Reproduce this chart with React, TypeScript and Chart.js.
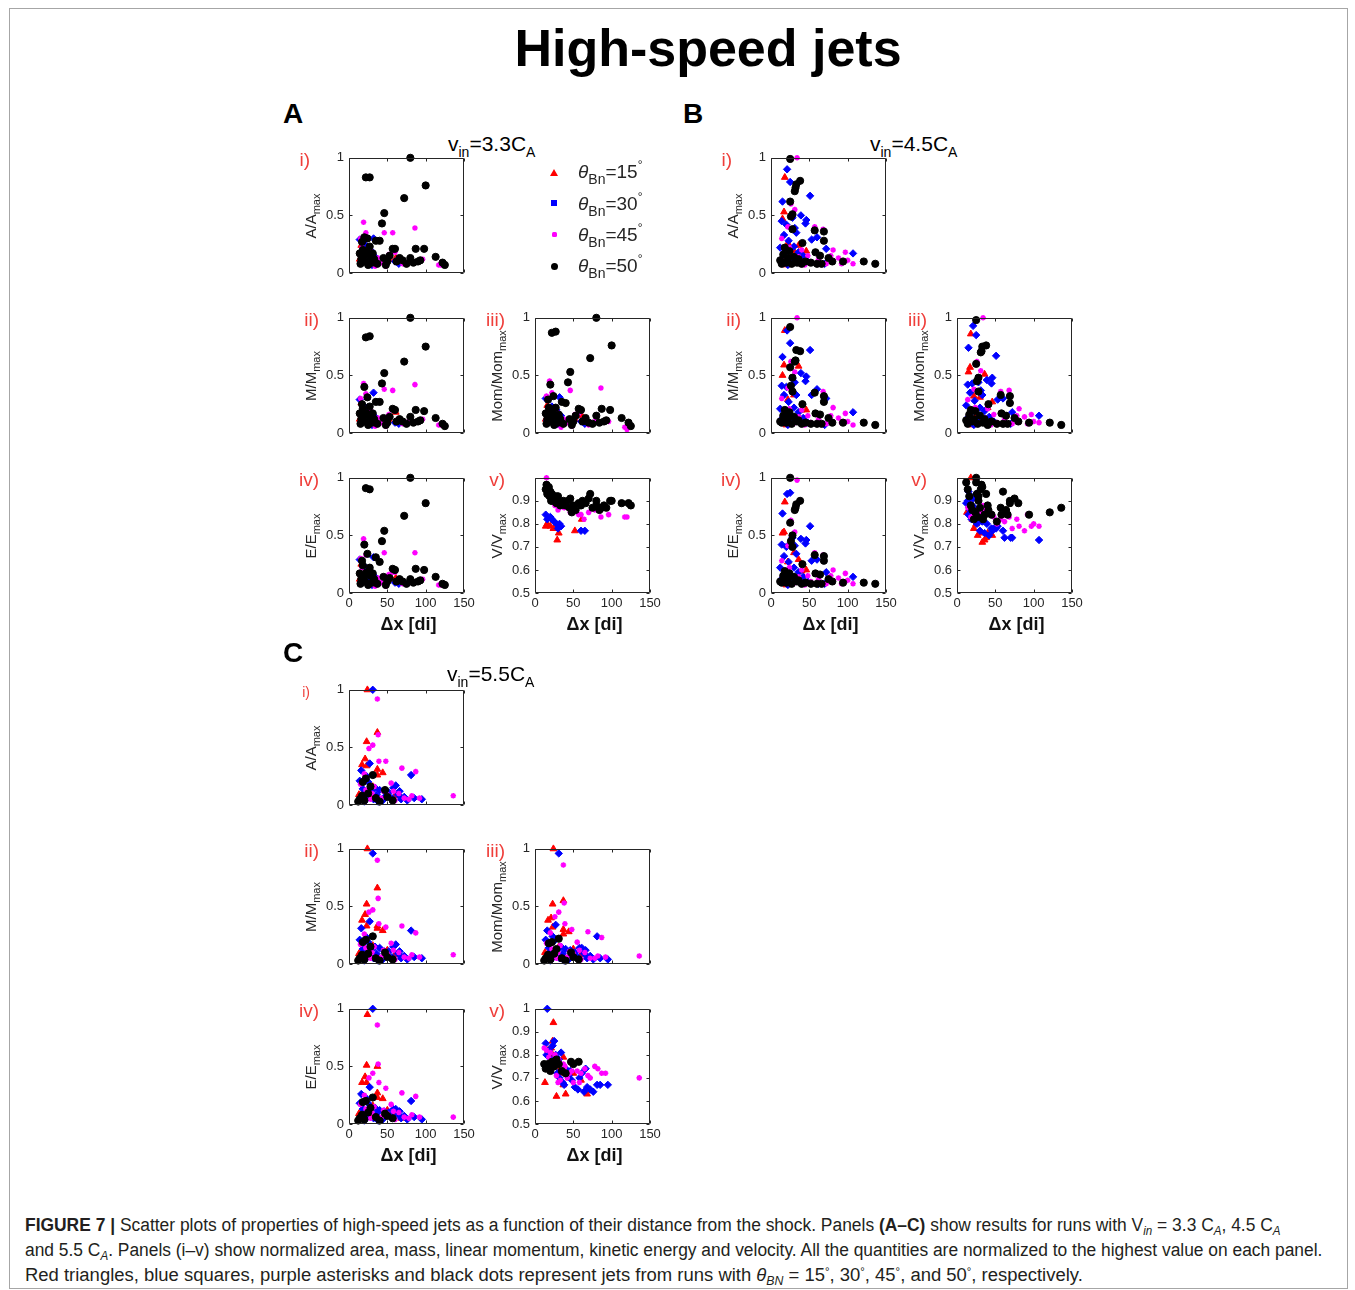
import React, { useEffect, useLayoutEffect, useRef } from 'react';
import { Chart, registerables } from 'chart.js';

Chart.register(...registerables);

const FONT = '"Liberation Sans", Arial, Helvetica, sans-serif';
const INK = '#262626';
const ROMAN_RED = '#ef3e3a';

// ---------------- categories / labels ----------------
const THETA_BN = ['15', '30', '45', '50'];
const RUN_LETTERS = ['A', 'B', 'C'];
const RUN_VIN = ['3.3', '4.5', '5.5'];
const ROMAN = ['i)', 'ii)', 'iii)', 'iv)', 'v)'];
const QTY_NAMES = ['A', 'M', 'Mom', 'E', 'V'];
const X_TICKS = [0, 50, 100, 150];
const Y_TICKS_NORM = [0, 0.5, 1];
const Y_LABELS_NORM = ['0', '0.5', '1'];
const Y_TICKS_VEL = [0.5, 0.6, 0.7, 0.8, 0.9, 1];
const Y_LABELS_VEL_AB = ['0.5', '0.6', '0.7', '0.8', '0.9', ''];
const Y_LABELS_VEL_C = ['0.5', '0.6', '0.7', '0.8', '0.9', '1'];

// ---------------- Run A : v_in = 3.3 C_A ----------------
const A_red_dx = [16, 61, 14, 20, 27, 29, 31, 52, 24];
const A_red_area = [0.24, 0.13, 0.12, 0.17, 0.10, 0.07, 0.14, 0.12, 0.09];
const A_red_mass = [0.26, 0.18, 0.12, 0.17, 0.10, 0.07, 0.14, 0.12, 0.09];
const A_red_mom = [0.24, 0.15, 0.12, 0.16, 0.10, 0.07, 0.14, 0.12, 0.09];
const A_red_energy = [0.25, 0.13, 0.12, 0.17, 0.10, 0.07, 0.14, 0.12, 0.09];
const A_red_vel = [0.80, 0.82, 0.79, 0.79, 0.78, 0.73, 0.76, 0.77, 0.78];

const A_blue_dx = [14, 32, 16, 20, 25, 28, 30, 34, 60, 65, 22];
const A_blue_area = [0.29, 0.30, 0.10, 0.16, 0.12, 0.20, 0.07, 0.14, 0.10, 0.08, 0.24];
const A_blue_mass = [0.29, 0.35, 0.10, 0.16, 0.13, 0.18, 0.07, 0.14, 0.09, 0.08, 0.22];
const A_blue_mom = [0.30, 0.31, 0.11, 0.17, 0.12, 0.20, 0.08, 0.15, 0.10, 0.08, 0.23];
const A_blue_energy = [0.29, 0.31, 0.10, 0.16, 0.12, 0.19, 0.07, 0.14, 0.09, 0.08, 0.22];
const A_blue_vel = [0.84, 0.80, 0.82, 0.83, 0.81, 0.80, 0.78, 0.79, 0.77, 0.77, 0.82];

const A_mag_dx = [19, 46, 57, 86, 117, 120, 96, 15, 17, 22, 26, 30, 34, 38, 42, 52, 60, 64, 70, 78, 28, 48];
const A_mag_area = [0.44, 0.35, 0.35, 0.39, 0.07, 0.07, 0.12, 0.30, 0.22, 0.35, 0.15, 0.10, 0.06, 0.13, 0.09, 0.16, 0.18, 0.12, 0.08, 0.10, 0.20, 0.06];
const A_mag_mass = [0.43, 0.38, 0.37, 0.42, 0.07, 0.07, 0.12, 0.30, 0.22, 0.34, 0.15, 0.10, 0.06, 0.13, 0.09, 0.16, 0.19, 0.12, 0.08, 0.10, 0.20, 0.06];
const A_mag_mom = [0.45, 0.37, 0.17, 0.39, 0.05, 0.03, 0.10, 0.32, 0.22, 0.35, 0.15, 0.10, 0.05, 0.12, 0.09, 0.16, 0.19, 0.12, 0.07, 0.10, 0.19, 0.06];
const A_mag_energy = [0.47, 0.35, 0.18, 0.35, 0.07, 0.07, 0.12, 0.30, 0.22, 0.33, 0.15, 0.10, 0.06, 0.13, 0.09, 0.16, 0.18, 0.12, 0.08, 0.09, 0.19, 0.06];
const A_mag_vel = [0.93, 0.85, 0.84, 0.83, 0.83, 0.83, 0.84, 1.00, 0.95, 0.92, 0.88, 0.86, 0.89, 0.87, 0.90, 0.86, 0.84, 0.82, 0.85, 0.86, 0.89, 0.88];

const A_blk_dx = [80, 22, 27, 100, 72, 46, 43, 20, 24, 35, 40, 18, 57, 60, 87, 98, 113, 122, 125, 15, 16, 19, 21, 25, 28, 30, 33, 37, 45, 50, 53, 62, 66, 70, 75, 80, 84, 90, 93, 17, 23, 27, 31, 14, 48];
const A_blk_area = [1.00, 0.83, 0.83, 0.76, 0.65, 0.52, 0.43, 0.31, 0.30, 0.28, 0.28, 0.20, 0.21, 0.21, 0.21, 0.21, 0.14, 0.09, 0.07, 0.08, 0.12, 0.15, 0.10, 0.07, 0.14, 0.09, 0.12, 0.08, 0.13, 0.10, 0.15, 0.10, 0.13, 0.11, 0.08, 0.13, 0.09, 0.10, 0.11, 0.27, 0.18, 0.23, 0.17, 0.17, 0.07];
const A_blk_mass = [1.00, 0.83, 0.84, 0.75, 0.62, 0.52, 0.43, 0.40, 0.31, 0.27, 0.27, 0.21, 0.21, 0.20, 0.20, 0.19, 0.13, 0.08, 0.06, 0.08, 0.12, 0.15, 0.10, 0.07, 0.14, 0.09, 0.12, 0.08, 0.13, 0.09, 0.14, 0.10, 0.12, 0.10, 0.08, 0.14, 0.09, 0.10, 0.11, 0.25, 0.17, 0.23, 0.17, 0.17, 0.07];
const A_blk_mom = [1.00, 0.87, 0.88, 0.76, 0.65, 0.53, 0.44, 0.42, 0.32, 0.27, 0.26, 0.22, 0.21, 0.20, 0.21, 0.20, 0.13, 0.09, 0.06, 0.08, 0.12, 0.14, 0.10, 0.07, 0.14, 0.09, 0.12, 0.08, 0.12, 0.10, 0.15, 0.10, 0.13, 0.09, 0.08, 0.15, 0.09, 0.10, 0.11, 0.29, 0.18, 0.22, 0.16, 0.17, 0.07];
const A_blk_energy = [1.00, 0.91, 0.90, 0.78, 0.67, 0.54, 0.45, 0.42, 0.34, 0.31, 0.27, 0.24, 0.21, 0.20, 0.21, 0.20, 0.14, 0.08, 0.07, 0.08, 0.12, 0.14, 0.10, 0.07, 0.15, 0.09, 0.12, 0.08, 0.14, 0.10, 0.13, 0.10, 0.12, 0.10, 0.08, 0.12, 0.09, 0.10, 0.11, 0.28, 0.18, 0.22, 0.17, 0.17, 0.07];
const A_blk_vel = [0.90, 0.93, 0.92, 0.90, 0.93, 0.91, 0.90, 0.94, 0.91, 0.89, 0.88, 0.96, 0.89, 0.88, 0.87, 0.90, 0.89, 0.89, 0.88, 0.97, 0.93, 0.92, 0.90, 0.91, 0.89, 0.92, 0.88, 0.90, 0.87, 0.88, 0.86, 0.90, 0.89, 0.91, 0.87, 0.88, 0.86, 0.88, 0.87, 0.93, 0.90, 0.91, 0.89, 0.95, 0.85];

// ---------------- Run B : v_in = 4.5 C_A ----------------
const B_red_dx = [18, 15, 17, 36, 46, 30, 22, 25, 13, 27, 33, 40, 20, 38];
const B_red_area = [0.83, 0.47, 0.53, 0.24, 0.19, 0.19, 0.26, 0.14, 0.12, 0.09, 0.10, 0.08, 0.07, 0.12];
const B_red_mass = [0.89, 0.50, 0.59, 0.58, 0.20, 0.33, 0.29, 0.15, 0.12, 0.09, 0.10, 0.20, 0.07, 0.12];
const B_red_mom = [0.86, 0.53, 0.57, 0.51, 0.27, 0.31, 0.32, 0.15, 0.13, 0.09, 0.10, 0.22, 0.07, 0.12];
const B_red_energy = [0.79, 0.52, 0.53, 0.29, 0.20, 0.35, 0.27, 0.16, 0.12, 0.10, 0.10, 0.19, 0.07, 0.12];
const B_red_vel = [1.00, 0.90, 0.88, 0.73, 0.75, 0.76, 0.78, 0.80, 0.85, 0.75, 0.72, 0.76, 0.82, 0.74];

const B_blue_dx = [21, 25, 51, 15, 39, 46, 45, 31, 53, 60, 72, 107, 14, 20, 17, 23, 28, 33, 12, 15, 19, 26, 36, 42, 62, 70, 22, 48, 30];
const B_blue_area = [0.90, 0.79, 0.67, 0.62, 0.50, 0.46, 0.43, 0.39, 0.29, 0.31, 0.21, 0.17, 0.45, 0.42, 0.33, 0.28, 0.48, 0.35, 0.22, 0.13, 0.18, 0.12, 0.18, 0.15, 0.09, 0.08, 0.07, 0.10, 0.23];
const B_blue_mass = [0.89, 0.78, 0.72, 0.66, 0.52, 0.49, 0.45, 0.44, 0.33, 0.38, 0.30, 0.18, 0.41, 0.40, 0.33, 0.27, 0.47, 0.33, 0.21, 0.13, 0.17, 0.12, 0.18, 0.13, 0.09, 0.07, 0.07, 0.09, 0.22];
const B_blue_mom = [0.93, 0.85, 0.67, 0.74, 0.46, 0.48, 0.43, 0.37, 0.29, 0.30, 0.18, 0.15, 0.42, 0.43, 0.35, 0.28, 0.44, 0.33, 0.24, 0.14, 0.18, 0.12, 0.19, 0.14, 0.09, 0.08, 0.07, 0.10, 0.22];
const B_blue_energy = [0.86, 0.87, 0.58, 0.69, 0.47, 0.46, 0.43, 0.41, 0.28, 0.29, 0.18, 0.14, 0.42, 0.40, 0.32, 0.27, 0.48, 0.34, 0.22, 0.13, 0.18, 0.12, 0.18, 0.14, 0.08, 0.08, 0.07, 0.10, 0.22];
const B_blue_vel = [0.91, 0.93, 0.78, 0.94, 0.80, 0.77, 0.78, 0.82, 0.79, 0.77, 0.74, 0.73, 0.90, 0.88, 0.86, 0.85, 0.83, 0.81, 0.89, 0.84, 0.82, 0.80, 0.76, 0.75, 0.74, 0.74, 0.87, 0.78, 0.77];

const B_mag_dx = [34, 26, 31, 57, 68, 81, 97, 107, 88, 78, 62, 48, 40, 22, 14, 18, 24, 29, 36, 44, 52, 92, 100, 72];
const B_mag_area = [1.00, 0.60, 0.55, 0.40, 0.38, 0.20, 0.18, 0.08, 0.13, 0.15, 0.12, 0.15, 0.20, 0.40, 0.30, 0.12, 0.22, 0.08, 0.14, 0.07, 0.09, 0.08, 0.11, 0.08];
const B_mag_mass = [1.00, 0.62, 0.53, 0.35, 0.36, 0.22, 0.17, 0.07, 0.13, 0.15, 0.12, 0.15, 0.20, 0.39, 0.30, 0.12, 0.21, 0.08, 0.14, 0.07, 0.09, 0.09, 0.10, 0.08];
const B_mag_mom = [1.00, 0.62, 0.54, 0.36, 0.37, 0.21, 0.16, 0.09, 0.14, 0.15, 0.12, 0.16, 0.21, 0.38, 0.29, 0.12, 0.22, 0.08, 0.13, 0.07, 0.09, 0.08, 0.10, 0.08];
const B_mag_energy = [0.98, 0.63, 0.53, 0.35, 0.33, 0.20, 0.17, 0.08, 0.13, 0.15, 0.12, 0.15, 0.20, 0.41, 0.28, 0.12, 0.22, 0.08, 0.14, 0.07, 0.10, 0.08, 0.11, 0.08];
const B_mag_vel = [0.88, 0.86, 0.85, 0.82, 0.83, 0.79, 0.79, 0.79, 0.77, 0.82, 0.81, 0.83, 0.85, 0.84, 0.87, 0.83, 0.85, 0.84, 0.86, 0.84, 0.80, 0.84, 0.80, 0.78];

const B_blk_dx = [25, 38, 33, 32, 31, 25, 28, 26, 28, 57, 69, 69, 41, 58, 121, 136, 94, 75, 80, 60, 12, 14, 16, 18, 20, 22, 24, 27, 30, 34, 36, 40, 45, 52, 64, 66];
const B_blk_area = [0.99, 0.80, 0.77, 0.74, 0.71, 0.62, 0.51, 0.49, 0.38, 0.37, 0.36, 0.28, 0.26, 0.18, 0.10, 0.08, 0.10, 0.13, 0.10, 0.08, 0.11, 0.08, 0.16, 0.22, 0.09, 0.13, 0.19, 0.08, 0.14, 0.09, 0.12, 0.08, 0.10, 0.09, 0.15, 0.08];
const B_blk_mass = [0.92, 0.71, 0.72, 0.63, 0.62, 0.57, 0.48, 0.41, 0.36, 0.35, 0.32, 0.27, 0.25, 0.17, 0.09, 0.07, 0.09, 0.13, 0.09, 0.08, 0.10, 0.09, 0.15, 0.20, 0.09, 0.13, 0.18, 0.08, 0.14, 0.10, 0.11, 0.08, 0.09, 0.08, 0.16, 0.08];
const B_blk_mom = [0.98, 0.76, 0.75, 0.71, 0.70, 0.60, 0.48, 0.45, 0.36, 0.33, 0.32, 0.26, 0.25, 0.17, 0.09, 0.07, 0.09, 0.13, 0.10, 0.08, 0.11, 0.08, 0.16, 0.20, 0.10, 0.12, 0.19, 0.08, 0.15, 0.09, 0.12, 0.07, 0.10, 0.08, 0.15, 0.08];
const B_blk_energy = [1.00, 0.80, 0.77, 0.74, 0.72, 0.61, 0.50, 0.45, 0.40, 0.33, 0.32, 0.28, 0.25, 0.17, 0.09, 0.08, 0.09, 0.12, 0.10, 0.08, 0.10, 0.09, 0.15, 0.19, 0.09, 0.13, 0.17, 0.08, 0.14, 0.10, 0.11, 0.08, 0.09, 0.08, 0.16, 0.08];
const B_blk_vel = [1.00, 0.93, 0.96, 0.97, 0.95, 0.98, 0.92, 0.93, 0.90, 0.87, 0.90, 0.89, 0.86, 0.84, 0.85, 0.87, 0.84, 0.91, 0.89, 0.94, 0.98, 0.95, 0.92, 0.88, 0.86, 0.82, 0.85, 0.83, 0.87, 0.82, 0.84, 0.88, 0.84, 0.81, 0.86, 0.84];

// ---------------- Run C : v_in = 5.5 C_A ----------------
const C_red_dx = [24, 37, 23, 21, 17, 23, 37, 44, 37, 13, 28, 68, 40, 60, 19, 31, 50];
const C_red_area = [1.00, 0.63, 0.55, 0.40, 0.35, 0.34, 0.31, 0.28, 0.26, 0.09, 0.07, 0.06, 0.05, 0.08, 0.12, 0.16, 0.11];
const C_red_mass = [1.00, 0.66, 0.52, 0.43, 0.38, 0.33, 0.33, 0.29, 0.31, 0.09, 0.07, 0.06, 0.05, 0.08, 0.12, 0.16, 0.12];
const C_red_mom = [1.00, 0.55, 0.52, 0.40, 0.38, 0.32, 0.30, 0.28, 0.26, 0.10, 0.07, 0.06, 0.05, 0.08, 0.11, 0.15, 0.13];
const C_red_energy = [0.95, 0.50, 0.51, 0.41, 0.36, 0.36, 0.27, 0.22, 0.23, 0.09, 0.07, 0.05, 0.05, 0.09, 0.12, 0.16, 0.12];
const C_red_vel = [0.94, 0.79, 0.86, 0.83, 0.82, 0.80, 0.72, 0.70, 0.67, 0.68, 0.62, 0.63, 0.63, 0.69, 0.77, 0.73, 0.72];

const C_blue_dx = [31, 27, 16, 81, 61, 95, 25, 34, 14, 18, 21, 24, 29, 32, 36, 40, 44, 48, 52, 56, 64, 68, 72, 76, 85, 20, 15, 58, 46, 23, 38, 66];
const C_blue_area = [1.00, 0.36, 0.30, 0.26, 0.17, 0.05, 0.20, 0.15, 0.21, 0.14, 0.10, 0.06, 0.12, 0.05, 0.09, 0.13, 0.04, 0.08, 0.11, 0.06, 0.09, 0.05, 0.07, 0.04, 0.06, 0.03, 0.05, 0.15, 0.12, 0.25, 0.03, 0.12];
const C_blue_mass = [0.96, 0.37, 0.31, 0.29, 0.17, 0.05, 0.19, 0.15, 0.21, 0.13, 0.10, 0.06, 0.12, 0.05, 0.09, 0.14, 0.04, 0.08, 0.11, 0.06, 0.09, 0.05, 0.07, 0.04, 0.06, 0.03, 0.05, 0.15, 0.11, 0.23, 0.03, 0.11];
const C_blue_mom = [0.96, 0.34, 0.29, 0.24, 0.14, 0.04, 0.20, 0.15, 0.21, 0.14, 0.10, 0.06, 0.12, 0.05, 0.09, 0.13, 0.04, 0.08, 0.10, 0.06, 0.09, 0.05, 0.07, 0.04, 0.05, 0.03, 0.05, 0.14, 0.12, 0.24, 0.03, 0.12];
const C_blue_energy = [1.00, 0.32, 0.26, 0.20, 0.13, 0.04, 0.18, 0.14, 0.18, 0.13, 0.10, 0.06, 0.12, 0.05, 0.09, 0.12, 0.04, 0.08, 0.10, 0.06, 0.08, 0.05, 0.07, 0.04, 0.06, 0.03, 0.05, 0.13, 0.11, 0.22, 0.03, 0.11];
const C_blue_vel = [0.78, 0.80, 1.00, 0.67, 0.72, 0.67, 0.86, 0.81, 0.85, 0.82, 0.78, 0.75, 0.72, 0.70, 0.68, 0.74, 0.71, 0.69, 0.66, 0.65, 0.64, 0.66, 0.65, 0.64, 0.67, 0.76, 0.80, 0.70, 0.73, 0.84, 0.67, 0.74];

const C_mag_dx = [37, 38, 31, 26, 39, 48, 69, 87, 136, 55, 45, 15, 18, 22, 28, 33, 42, 50, 60, 65, 72, 78, 82, 92, 20, 12, 30, 58];
const C_mag_area = [0.92, 0.61, 0.52, 0.49, 0.38, 0.38, 0.32, 0.29, 0.08, 0.19, 0.12, 0.18, 0.08, 0.13, 0.05, 0.16, 0.06, 0.09, 0.04, 0.10, 0.06, 0.05, 0.08, 0.06, 0.27, 0.03, 0.10, 0.12];
const C_mag_mass = [0.90, 0.57, 0.47, 0.45, 0.35, 0.32, 0.33, 0.27, 0.08, 0.18, 0.12, 0.17, 0.08, 0.14, 0.05, 0.15, 0.06, 0.09, 0.04, 0.10, 0.06, 0.05, 0.08, 0.06, 0.26, 0.03, 0.10, 0.12];
const C_mag_mom = [0.86, 0.53, 0.45, 0.41, 0.35, 0.30, 0.28, 0.23, 0.07, 0.19, 0.11, 0.18, 0.08, 0.13, 0.05, 0.16, 0.06, 0.09, 0.04, 0.10, 0.05, 0.05, 0.07, 0.06, 0.27, 0.03, 0.10, 0.12];
const C_mag_energy = [0.86, 0.52, 0.44, 0.40, 0.36, 0.31, 0.27, 0.24, 0.06, 0.17, 0.12, 0.17, 0.08, 0.13, 0.05, 0.15, 0.06, 0.09, 0.04, 0.10, 0.06, 0.05, 0.08, 0.06, 0.25, 0.03, 0.10, 0.11];
const C_mag_vel = [0.76, 0.74, 0.78, 0.80, 0.75, 0.73, 0.71, 0.72, 0.70, 0.73, 0.72, 0.82, 0.79, 0.74, 0.71, 0.69, 0.70, 0.68, 0.72, 0.74, 0.70, 0.75, 0.74, 0.72, 0.81, 0.83, 0.68, 0.68];

const C_blk_dx = [22, 31, 28, 47, 50, 57, 14, 17, 20, 25, 35, 40, 18, 12];
const C_blk_area = [0.23, 0.26, 0.16, 0.13, 0.07, 0.04, 0.05, 0.08, 0.04, 0.10, 0.06, 0.03, 0.20, 0.03];
const C_blk_mass = [0.21, 0.24, 0.15, 0.10, 0.06, 0.04, 0.05, 0.08, 0.04, 0.09, 0.05, 0.03, 0.19, 0.03];
const C_blk_mom = [0.19, 0.22, 0.13, 0.10, 0.06, 0.04, 0.05, 0.08, 0.04, 0.09, 0.05, 0.03, 0.18, 0.03];
const C_blk_energy = [0.20, 0.23, 0.14, 0.09, 0.07, 0.05, 0.05, 0.08, 0.04, 0.10, 0.06, 0.03, 0.19, 0.03];
const C_blk_vel = [0.77, 0.76, 0.78, 0.77, 0.76, 0.77, 0.74, 0.76, 0.73, 0.75, 0.73, 0.72, 0.75, 0.76];

// ---------------- assembly (no values here) ----------------
type Series = { dx: number[]; q: number[][] };
const mk = (dx: number[], a: number[], m: number[], p: number[], e: number[], v: number[]): Series => ({ dx, q: [a, m, p, e, v] });

const RUNS: Record<string, Series>[] = [
  {
    red: mk(A_red_dx, A_red_area, A_red_mass, A_red_mom, A_red_energy, A_red_vel),
    blue: mk(A_blue_dx, A_blue_area, A_blue_mass, A_blue_mom, A_blue_energy, A_blue_vel),
    mag: mk(A_mag_dx, A_mag_area, A_mag_mass, A_mag_mom, A_mag_energy, A_mag_vel),
    blk: mk(A_blk_dx, A_blk_area, A_blk_mass, A_blk_mom, A_blk_energy, A_blk_vel),
  },
  {
    red: mk(B_red_dx, B_red_area, B_red_mass, B_red_mom, B_red_energy, B_red_vel),
    blue: mk(B_blue_dx, B_blue_area, B_blue_mass, B_blue_mom, B_blue_energy, B_blue_vel),
    mag: mk(B_mag_dx, B_mag_area, B_mag_mass, B_mag_mom, B_mag_energy, B_mag_vel),
    blk: mk(B_blk_dx, B_blk_area, B_blk_mass, B_blk_mom, B_blk_energy, B_blk_vel),
  },
  {
    red: mk(C_red_dx, C_red_area, C_red_mass, C_red_mom, C_red_energy, C_red_vel),
    blue: mk(C_blue_dx, C_blue_area, C_blue_mass, C_blue_mom, C_blue_energy, C_blue_vel),
    mag: mk(C_mag_dx, C_mag_area, C_mag_mass, C_mag_mom, C_mag_energy, C_mag_vel),
    blk: mk(C_blk_dx, C_blk_area, C_blk_mass, C_blk_mom, C_blk_energy, C_blk_vel),
  },
];

// drawing order: first dataset is drawn on top
const SERIES_STYLE = [
  { key: 'blk', color: '#000000', style: 'circle', r: 3.6, bw: 1 },
  { key: 'mag', color: '#ff00ff', style: 'star', r: 2.8, bw: 1.6 },
  { key: 'blue', color: '#0000ff', style: 'rectRot', r: 3.7, bw: 1 },
  { key: 'red', color: '#ff0000', style: 'triangle', r: 3.9, bw: 1 },
];

// layout of the axes boxes
const RUN_GRID = [
  { c1: 349, c2: 535, rows: [158, 318, 478], letter: [283, 124], vin: [448, 151] },
  { c1: 771, c2: 957, rows: [158, 318, 478], letter: [683, 124], vin: [870, 151] },
  { c1: 349, c2: 535, rows: [690, 849, 1009], letter: [283, 663], vin: [447, 681] },
];
const SLOTS = [
  { col: 1, row: 0 },
  { col: 1, row: 1 },
  { col: 2, row: 1 },
  { col: 1, row: 2 },
  { col: 2, row: 2 },
];
const BOX_W = 115;
const BOX_H = 115;
const PAD_L = 50, PAD_T = 10, PAD_R = 16, PAD_B = 30;

const boxPlugin = {
  id: 'matlabBox',
  afterDraw(chart: any) {
    const { ctx, chartArea: a, scales } = chart;
    const l = Math.round(a.left) + 0.5;
    const r = Math.round(a.right) - 0.5;
    const t = Math.round(a.top) + 0.5;
    const b = Math.round(a.bottom) - 0.5;
    const TL = 3;
    ctx.save();
    ctx.strokeStyle = INK;
    ctx.lineWidth = 1;
    ctx.beginPath();
    ctx.rect(l, t, r - l, b - t);
    scales.x.ticks.forEach((tk: any) => {
      const px = Math.round(scales.x.getPixelForValue(tk.value)) + 0.5;
      ctx.moveTo(px, b); ctx.lineTo(px, b - TL);
      ctx.moveTo(px, t); ctx.lineTo(px, t + TL);
    });
    scales.y.ticks.forEach((tk: any) => {
      const py = Math.round(scales.y.getPixelForValue(tk.value)) + 0.5;
      ctx.moveTo(l, py); ctx.lineTo(l + TL, py);
      ctx.moveTo(r, py); ctx.lineTo(r - TL, py);
    });
    ctx.stroke();
    ctx.restore();
  },
};

function makeConfig(runIdx: number, qi: number, showX: boolean): any {
  const run = RUNS[runIdx];
  const isV = qi === 4;
  const yTicks = isV ? Y_TICKS_VEL : Y_TICKS_NORM;
  const yLabels = isV ? (runIdx === 2 ? Y_LABELS_VEL_C : Y_LABELS_VEL_AB) : Y_LABELS_NORM;
  const datasets = SERIES_STYLE.map((st) => {
    const s = run[st.key];
    return {
      label: st.key,
      data: s.dx.map((x, i) => ({ x, y: s.q[qi][i] })),
      pointStyle: st.style,
      pointRadius: st.r,
      pointBackgroundColor: st.color,
      pointBorderColor: st.color,
      pointBorderWidth: st.bw,
      showLine: false,
      clip: false,
    };
  });
  const tickFont = { family: FONT, size: 13 };
  return {
    type: 'scatter',
    data: { datasets },
    options: {
      animation: false,
      responsive: false,
      maintainAspectRatio: false,
      devicePixelRatio: 1,
      events: [],
      layout: { padding: { left: 0, top: PAD_T, right: PAD_R, bottom: 0 } },
      plugins: { legend: { display: false }, tooltip: { enabled: false } },
      scales: {
        x: {
          type: 'linear',
          min: 0,
          max: 150,
          grid: { display: false, drawTicks: false },
          border: { display: false },
          afterBuildTicks: (s: any) => { s.ticks = X_TICKS.map((v) => ({ value: v })); },
          ticks: {
            padding: 3,
            maxRotation: 0,
            autoSkip: false,
            color: INK,
            font: tickFont,
            callback: (v: any) => (showX ? String(v) : ''),
          },
          afterFit: (s: any) => { s.height = PAD_B; },
        },
        y: {
          type: 'linear',
          min: yTicks[0],
          max: yTicks[yTicks.length - 1],
          grid: { display: false, drawTicks: false },
          border: { display: false },
          afterBuildTicks: (s: any) => { s.ticks = yTicks.map((v) => ({ value: v })); },
          ticks: {
            padding: 5,
            autoSkip: false,
            color: INK,
            font: tickFont,
            callback: (_v: any, i: number) => yLabels[i],
          },
          afterFit: (s: any) => { s.width = PAD_L; },
        },
      },
    },
    plugins: [boxPlugin],
  };
}

function Panel(props: { left: number; top: number; runIdx: number; qi: number; showX: boolean }) {
  const { left, top, runIdx, qi, showX } = props;
  const ref = useRef<HTMLCanvasElement>(null);
  const W0 = PAD_L + BOX_W + PAD_R;
  const H0 = PAD_T + BOX_H + PAD_B;
  useEffect(() => {
    const canvas = ref.current as HTMLCanvasElement;
    canvas.width = W0;
    canvas.height = H0;
    let chart = new Chart(canvas, makeConfig(runIdx, qi, showX));
    const a = chart.chartArea;
    const W1 = Math.round(BOX_W + W0 - (a.right - a.left));
    const H1 = Math.round(BOX_H + H0 - (a.bottom - a.top));
    chart.destroy();
    canvas.width = W1;
    canvas.height = H1;
    canvas.style.width = `${W1}px`;
    canvas.style.height = `${H1}px`;
    chart = new Chart(canvas, makeConfig(runIdx, qi, showX));
    const b = chart.chartArea;
    canvas.style.left = `${left - Math.round(b.left)}px`;
    canvas.style.top = `${top - Math.round(b.top)}px`;
    return () => chart.destroy();
  }, [runIdx, qi, showX, left, top]);
  return (
    <canvas
      ref={ref}
      width={W0}
      height={H0}
      style={{ position: 'absolute', left: left - PAD_L, top: top - PAD_T, width: W0, height: H0 }}
    />
  );
}

const Sub = ({ size, off, italic, children }: any) => (
  <span style={{ fontSize: size, verticalAlign: -off, lineHeight: 0, fontStyle: italic ? 'italic' : 'normal' }}>{children}</span>
);
const Sup = ({ size, off, children }: any) => (
  <span style={{ fontSize: size, verticalAlign: off, lineHeight: 0 }}>{children}</span>
);

function Txt(props: any) {
  const { x, base, size, bold, italic, color, align, width, children } = props;
  const w = width || 400;
  let left = x;
  if (align === 'center') left = x - w / 2;
  if (align === 'right') left = x - w;
  return (
    <div
      style={{
        position: 'absolute',
        left,
        top: base - 0.8465 * size,
        width: w,
        textAlign: align || 'left',
        fontSize: size,
        lineHeight: `${size}px`,
        whiteSpace: 'nowrap',
        fontWeight: bold ? 'bold' : 'normal',
        fontStyle: italic ? 'italic' : 'normal',
        color: color || INK,
        fontFamily: FONT,
      }}
    >
      {children}
    </div>
  );
}

function YTitle({ cx, cy, name }: any) {
  return (
    <div
      style={{
        position: 'absolute',
        left: cx,
        top: cy,
        transform: 'translate(-50%, -50%) rotate(-90deg)',
        whiteSpace: 'nowrap',
        fontSize: 15,
        lineHeight: '15px',
        color: INK,
        fontFamily: FONT,
      }}
    >
      {name}/{name}
      <Sub size={11} off={4}>max</Sub>
    </div>
  );
}

function FitLine({ left, base, width, size, children }: any) {
  const ref = useRef<HTMLDivElement>(null);
  useLayoutEffect(() => {
    const el = ref.current;
    if (!el) return;
    el.style.transform = 'none';
    const w = el.offsetWidth;
    if (w > 0) el.style.transform = `scaleX(${width / w})`;
  }, [width]);
  return (
    <div
      ref={ref}
      style={{
        position: 'absolute',
        left,
        top: base - 0.8465 * size,
        fontSize: size,
        lineHeight: `${size}px`,
        whiteSpace: 'nowrap',
        display: 'inline-block',
        transformOrigin: '0 0',
        color: '#231f20',
        fontFamily: FONT,
      }}
    >
      {children}
    </div>
  );
}

function LegendMarker({ kind, cx, cy }: any) {
  if (kind === 0)
    return (
      <div style={{ position: 'absolute', left: cx - 4, top: cy - 4, width: 0, height: 0, borderLeft: '4px solid transparent', borderRight: '4px solid transparent', borderBottom: '7px solid #ff0000' }} />
    );
  if (kind === 1)
    return <div style={{ position: 'absolute', left: cx - 3, top: cy - 3, width: 6, height: 6, background: '#0000ff' }} />;
  if (kind === 2)
    return <div style={{ position: 'absolute', left: cx - 2.5, top: cy - 2.5, width: 5, height: 5, background: '#ff00ff', borderRadius: 1.5 }} />;
  return <div style={{ position: 'absolute', left: cx - 3.5, top: cy - 3.5, width: 7, height: 7, background: '#000', borderRadius: '50%' }} />;
}

const LEGEND_MARK_X = 554;
const LEGEND_MARK_Y = [173, 203, 234, 266];
const LEGEND_TEXT_X = 578;
const LEGEND_TEXT_BASE = [178, 210, 241, 272];

export default function App() {
  const items: any[] = [];
  RUN_GRID.forEach((g, ri) => {
    items.push(
      <Txt key={`L${ri}`} x={g.letter[0]} base={g.letter[1]} size={28} bold color="#000">
        {RUN_LETTERS[ri]}
      </Txt>
    );
    items.push(
      <Txt key={`V${ri}`} x={g.vin[0]} base={g.vin[1]} size={21} color="#000">
        v<Sub size={14} off={6}>in</Sub>={RUN_VIN[ri]}C<Sub size={14} off={6}>A</Sub>
      </Txt>
    );
    SLOTS.forEach((sl, qi) => {
      const bx = sl.col === 1 ? g.c1 : g.c2;
      const by = g.rows[sl.row];
      const showX = qi >= 3;
      items.push(<Panel key={`P${ri}-${qi}`} left={bx} top={by} runIdx={ri} qi={qi} showX={showX} />);
      const small = ri === 2 && qi === 0;
      items.push(
        <Txt
          key={`R${ri}-${qi}`}
          x={bx - (qi === 0 ? 39 : 30)}
          base={by + (small ? 7 : 8)}
          size={small ? 14 : 19}
          color={ROMAN_RED}
          align="right"
          width={60}
        >
          {ROMAN[qi]}
        </Txt>
      );
      items.push(<YTitle key={`Y${ri}-${qi}`} cx={bx - 39} cy={by + BOX_H / 2} name={QTY_NAMES[qi]} />);
      if (showX) {
        items.push(
          <Txt key={`X${ri}-${qi}`} x={bx + BOX_W / 2 + 2} base={by + BOX_H + 37} size={18} bold color="#111" align="center" width={120}>
            Δx [di]
          </Txt>
        );
      }
    });
  });

  return (
    <div
      style={{
        position: 'absolute',
        left: 0,
        top: 0,
        width: 1355,
        height: 1290,
        background: '#fff',
        overflow: 'hidden',
        fontFamily: FONT,
      }}
    >
      <div style={{ position: 'absolute', left: 9, top: 8, width: 1337, height: 1279, border: '1px solid #a6a6a6' }} />
      <Txt x={708} base={66} size={52} bold color="#000" align="center" width={700}>
        High-speed jets
      </Txt>
      {items}
      {THETA_BN.map((th, i) => (
        <React.Fragment key={`leg${i}`}>
          <LegendMarker kind={i} cx={LEGEND_MARK_X} cy={LEGEND_MARK_Y[i]} />
          <Txt x={LEGEND_TEXT_X} base={LEGEND_TEXT_BASE[i]} size={19} color={INK}>
            <span style={{ fontStyle: 'italic' }}>θ</span>
            <Sub size={14} off={6}>Bn</Sub>={th}
            <Sup size={12} off={9}>°</Sup>
          </Txt>
        </React.Fragment>
      ))}
      <FitLine left={25} base={1231} width={1256} size={18}>
        <b>FIGURE 7 |</b> Scatter plots of properties of high-speed jets as a function of their distance from the shock. Panels{' '}
        <b>(A–C)</b> show results for runs with V<Sub size={12} off={4} italic>in</Sub> = 3.3 C<Sub size={12} off={4} italic>A</Sub>, 4.5 C
        <Sub size={12} off={4} italic>A</Sub>
      </FitLine>
      <FitLine left={25} base={1256} width={1297} size={18}>
        and 5.5 C<Sub size={12} off={4} italic>A</Sub>. Panels (i–v) show normalized area, mass, linear momentum, kinetic energy and velocity. All the
        quantities are normalized to the highest value on each panel.
      </FitLine>
      <FitLine left={25} base={1281} width={1058} size={18}>
        Red triangles, blue squares, purple asterisks and black dots represent jets from runs with <span style={{ fontStyle: 'italic' }}>θ</span>
        <Sub size={12} off={4} italic>BN</Sub> = 15<Sup size={11} off={6}>°</Sup>, 30<Sup size={11} off={6}>°</Sup>, 45
        <Sup size={11} off={6}>°</Sup>, and 50<Sup size={11} off={6}>°</Sup>, respectively.
      </FitLine>
    </div>
  );
}
